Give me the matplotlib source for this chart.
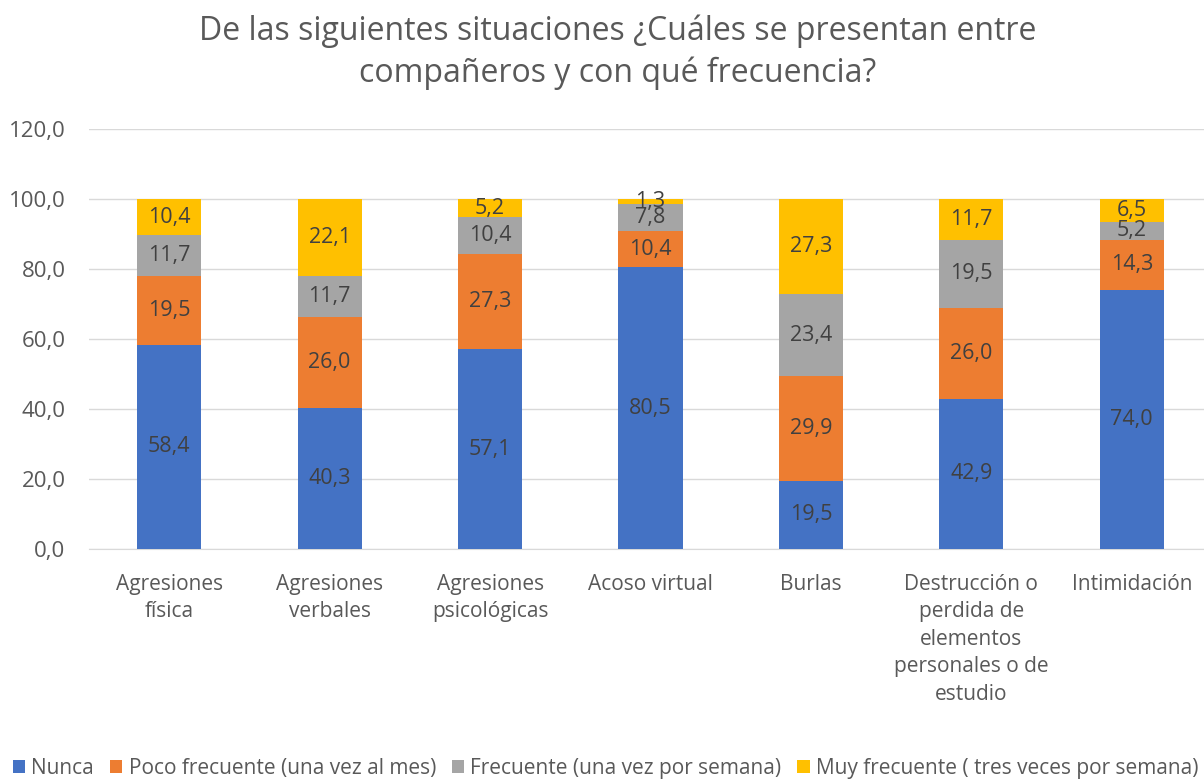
import matplotlib
matplotlib.use("Agg")
import matplotlib.pyplot as plt
import numpy as np

categories = ["Agresiones\nfísica", "Agresiones\nverbales", "Agresiones\npsicológicas",
              "Acoso virtual", "Burlas",
              "Destrucción o\nperdida de\nelementos\npersonales o de\nestudio", "Intimidación"]
series_names = ["Nunca", "Poco frecuente (una vez al mes)", "Frecuente (una vez por semana)",
                "Muy frecuente ( tres veces por semana)"]
nunca = [58.4, 40.3, 57.1, 80.5, 19.5, 42.9, 74.0]
poco = [19.5, 26.0, 27.3, 10.4, 29.9, 26.0, 14.3]
frecuente = [11.7, 11.7, 10.4, 7.8, 23.4, 19.5, 5.2]
muy = [10.4, 22.1, 5.2, 1.3, 27.3, 11.7, 6.5]
colors = ["#4472C4", "#ED7D31", "#A5A5A5", "#FFC000"]
yticks = [0, 20, 40, 60, 80, 100, 120]

plt.rcParams['font.family'] = ['Open Sans', 'DejaVu Sans']

fig = plt.figure(figsize=(12.04, 7.82), dpi=100)
ax = fig.add_axes([89/1204, 1-549/782, (1204-89)/1204, 420/782])

x = np.arange(len(categories))
bottom = np.zeros(len(categories))
handles = []
for vals, c, name in zip([nunca, poco, frecuente, muy], colors, series_names):
    b = ax.bar(x, vals, 0.4, bottom=bottom, color=c, label=name, zorder=3)
    handles.append(b)
    for xi, v, bt in zip(x, vals, bottom):
        ax.text(xi, bt + v/2, f"{v:.1f}".replace(".", ","), ha="center", va="center",
                fontsize=15.5, color="#404040", zorder=4)
    bottom += np.array(vals)

ax.set_xlim(-0.5, 6.45)
ax.set_ylim(0, 120)
ax.set_yticks(yticks)
ax.set_yticklabels([f"{t:.1f}".replace(".", ",") for t in yticks], fontsize=16, color="#595959")
ax.set_xticks(x)
ax.set_xticklabels(categories, fontsize=15, color="#595959", linespacing=1.4, va="top")
ax.tick_params(axis="y", length=0, pad=17)
ax.tick_params(axis="x", length=0, pad=18)
ax.grid(axis="y", color="#D9D9D9", linewidth=1, zorder=0)
for s in ["top", "right", "left"]:
    ax.spines[s].set_visible(False)
ax.spines["bottom"].set_color("#D9D9D9")

fig.text(0.513, 1-52/782, "De las siguientes situaciones ¿Cuáles se presentan entre\ncompañeros y con qué frecuencia?",
         ha="center", va="center", fontsize=23, color="#595959", linespacing=1.35)

fig.legend(handles=handles, labels=series_names, loc="lower left", bbox_to_anchor=(-0.005, -0.02),
           ncol=4, frameon=False, fontsize=15, handlelength=0.6, handleheight=0.6,
           handletextpad=0.3, columnspacing=0.75, labelcolor="#595959")

fig.savefig("out.png", dpi=100)
